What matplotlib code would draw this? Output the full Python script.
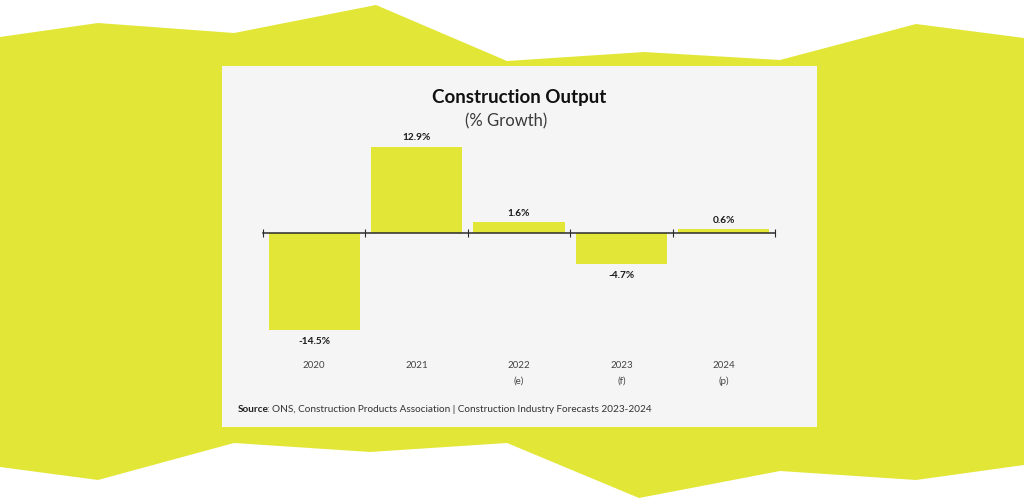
import matplotlib.pyplot as plt
from matplotlib.patches import Polygon, Rectangle

# -------------------------------------------------------------
# DATA
# -------------------------------------------------------------
years = ['2020', '2021', '2022', '2023', '2024']
year_notes = ['', '', '(e)', '(f)', '(p)']
growth = [-14.5, 12.9, 1.6, -4.7, 0.6]

# decorative zig-zag band behind the card (pixel coords)
band_top_x = [0, 98, 234, 376, 507, 644, 780, 916, 1024]
band_top_y = [37, 23, 33, 5, 61, 52, 60, 24, 38]
band_bot_x = [1024, 916, 780, 639, 507, 370, 234, 98, 0]
band_bot_y = [465, 480, 471, 498, 443, 452, 443, 480, 467]

YELLOW = '#E2E737'
PANEL = '#F5F5F5'
W, H = 1024, 501

plt.rcParams['font.family'] = ['Lato', 'DejaVu Sans']

fig = plt.figure(figsize=(W / 100, H / 100), dpi=100)
fig.patch.set_facecolor('white')

# background layer in pixel coordinates
bg = fig.add_axes([0, 0, 1, 1])
bg.set_xlim(0, W)
bg.set_ylim(H, 0)
bg.axis('off')
band = list(zip(band_top_x, band_top_y)) + list(zip(band_bot_x, band_bot_y))
bg.add_patch(Polygon(band, closed=True, facecolor=YELLOW, edgecolor='none'))
bg.add_patch(Rectangle((222, 66), 595, 361, facecolor=PANEL, edgecolor='none'))

bg.text(519, 97, 'Construction Output', ha='center', va='center',
        fontsize=13.5, fontweight='bold', color='#111111')
bg.text(506, 121, '(% Growth)', ha='center', va='center',
        fontsize=12, fontweight='normal', color='#3A3A3A')

t1 = bg.text(238, 409, 'Source', ha='left', va='center', fontsize=7.2,
             fontweight='bold', color='#222222')
bg.annotate(': ONS, Construction Products Association | Construction Industry Forecasts 2023-2024',
            xy=(1, 0.5), xycoords=t1, xytext=(-1.5, 0), textcoords='offset points',
            ha='left', va='center', fontsize=7.2, color='#333333')

# -------------------------------------------------------------
# CHART AXES
# -------------------------------------------------------------
px_per_unit = 6.7
zero_px = 233
ax_top_px, ax_bot_px = 130, 345
ax_left_px, ax_right_px = 263, 775
ax = fig.add_axes([ax_left_px / W, 1 - ax_bot_px / H,
                   (ax_right_px - ax_left_px) / W, (ax_bot_px - ax_top_px) / H])
ax.patch.set_alpha(0)
ax.set_xlim(-0.5, len(years) - 0.5)
ax.set_ylim(-(ax_bot_px - zero_px) / px_per_unit, (zero_px - ax_top_px) / px_per_unit)

x = range(len(years))
bars = ax.bar(x, growth, width=0.89, color=YELLOW, edgecolor='none', zorder=2)

for s in ['top', 'right', 'left']:
    ax.spines[s].set_visible(False)
ax.spines['bottom'].set_position(('data', 0))
ax.spines['bottom'].set_color('#2B2B2B')
ax.spines['bottom'].set_linewidth(1.1)
ax.spines['bottom'].set_zorder(3)
ax.set_yticks([])
ax.set_xticks([i - 0.5 for i in range(len(years) + 1)])
ax.set_xticklabels([])
ax.tick_params(axis='x', direction='inout', length=6, width=0.8, color='#2B2B2B')

for b, v in zip(bars, growth):
    cx = b.get_x() + b.get_width() / 2
    if v >= 0:
        ax.annotate(f'{v:.1f}%', xy=(cx, v), xytext=(0, 3), textcoords='offset points',
                    ha='center', va='bottom', fontsize=7.3, fontweight='bold', color='#1A1A1A')
    else:
        ax.annotate(f'{v:.1f}%', xy=(cx, v), xytext=(0, -5), textcoords='offset points',
                    ha='center', va='top', fontsize=7.3, fontweight='bold', color='#1A1A1A')

# year labels below the chart
for i, (yr, note) in enumerate(zip(years, year_notes)):
    px = ax_left_px + (i + 0.5) * (ax_right_px - ax_left_px) / len(years)
    bg.text(px, 365, yr, ha='center', va='center', fontsize=7, color='#444444')
    if note:
        bg.text(px, 381, note, ha='center', va='center', fontsize=7, color='#444444')

fig.savefig('out.png', dpi=100, facecolor=fig.get_facecolor())
